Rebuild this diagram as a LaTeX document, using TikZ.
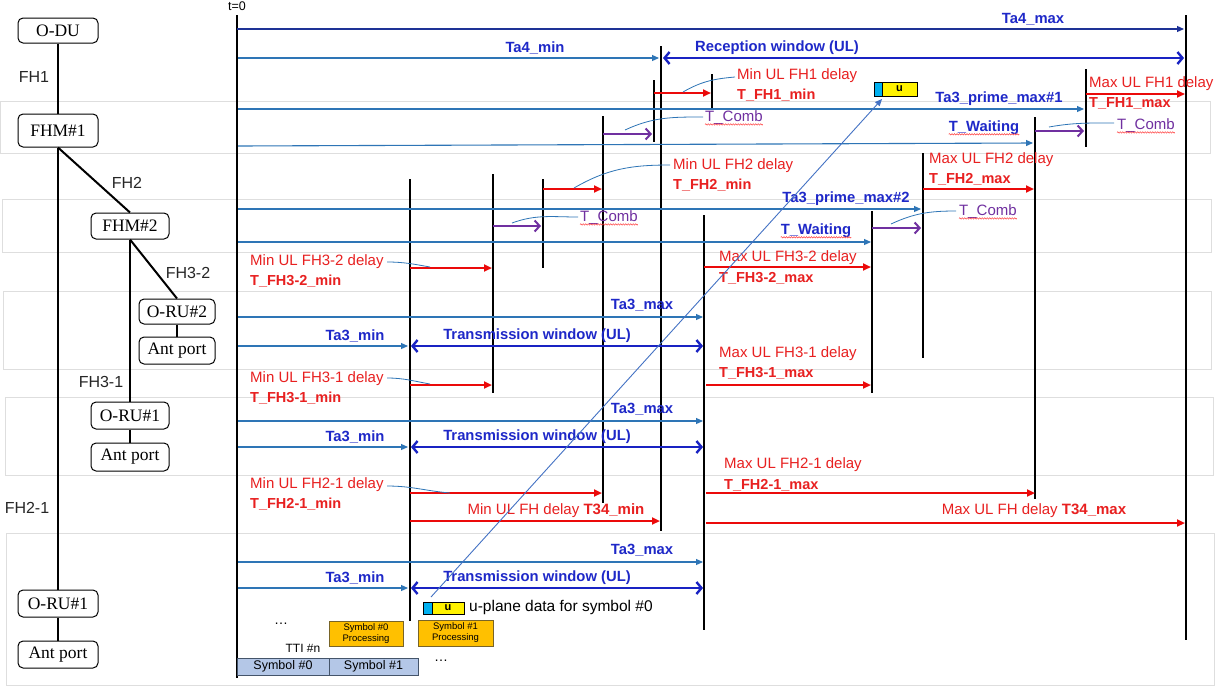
\documentclass[tikz,border=0pt]{standalone}
\usepackage{fontspec}
\setmainfont{Liberation Sans}
\newfontfamily\serifbox{Liberation Serif}
\usetikzlibrary{arrows.meta,decorations.pathmorphing}
\definecolor{lblue}{RGB}{30,40,200}
\definecolor{sblue}{RGB}{46,117,182}
\definecolor{nblue}{RGB}{30,50,150}
\definecolor{wblue}{RGB}{25,35,195}
\definecolor{tred}{RGB}{232,32,32}
\definecolor{ared}{RGB}{235,10,10}
\definecolor{tpurp}{RGB}{112,48,160}
\definecolor{bandgray}{RGB}{222,222,222}
\definecolor{orng}{RGB}{255,192,0}
\definecolor{orngdraw}{RGB}{120,100,40}
\definecolor{symblue}{RGB}{180,199,231}
\definecolor{symdraw}{RGB}{68,84,106}
\definecolor{cyanu}{RGB}{0,176,240}
\definecolor{diag}{RGB}{68,114,196}
\begin{document}
\begin{tikzpicture}[x=1pt,y=-1pt,
  box/.style={draw, line width=1pt, rounded corners=5pt, inner sep=0pt,
    font=\serifbox\fontsize{17.5}{20}\selectfont},
  tline/.style={line width=2pt},
  vl/.style={line width=2pt},
  bl/.style={sblue, line width=1.1pt, -{Triangle[length=7pt,width=6pt]}},
  nbl/.style={nblue, line width=1.1pt, -{Triangle[length=7pt,width=6pt]}},
  win/.style={wblue, line width=2.4pt, {Straight Barb[length=5pt,width=12pt]}-{Straight Barb[length=5pt,width=12pt]}},
  ra/.style={ared, line width=2pt, -{Triangle[length=8pt,width=7pt]}},
  pa/.style={tpurp, line width=2pt, -{Straight Barb[length=5pt,width=11pt]}},
  co/.style={sblue, line width=0.8pt},
  blab/.style={text=lblue, inner sep=0pt, font=\bfseries\fontsize{14.8}{16}\selectfont},
  rlab/.style={text=tred, inner sep=0pt, anchor=west, font=\fontsize{15}{17}\selectfont},
  rbold/.style={text=tred, inner sep=0pt, anchor=west, font=\bfseries\fontsize{14.5}{16}\selectfont},
  plab/.style={text=tpurp, inner sep=0pt, anchor=west, font=\fontsize{15}{17}\selectfont},
  fhlab/.style={text=black!85, inner sep=0pt, font=\fontsize{16}{18}\selectfont},
  band/.style={draw=bandgray, line width=0.8pt},
  wavy/.style={red!75, line width=0.5pt, decorate, decoration={snake,amplitude=0.7pt,segment length=2.5pt}},
  procbox/.style={draw=orngdraw, fill=orng, line width=0.6pt, inner sep=0pt, align=center,
    font=\fontsize{9.5}{11}\selectfont},
  symbar/.style={draw=symdraw, fill=symblue, line width=0.8pt, inner sep=0pt,
    font=\fontsize{12.5}{14}\selectfont}
]
\useasboundingbox (0,0) rectangle (1215,686);
\fill[white] (0,0) rectangle (1215,686);

% background bands
\draw[band] (0,101) rectangle (1210,153);
\draw[band] (2,199) rectangle (1211,252);
\draw[band] (3,291) rectangle (1211,369);
\draw[band] (5,397) rectangle (1213,475);
\draw[band] (6,533) rectangle (1214,685);

% ---------- tree ----------
\node[box, minimum width=80pt, minimum height=25pt] (odu)   at (58,30.5)  {O-DU};
\node[box, minimum width=80pt, minimum height=33pt] (fhm1)  at (58,130.5) {FHM\#1};
\node[box, minimum width=78pt, minimum height=26pt] (fhm2)  at (130,226)  {FHM\#2};
\node[box, minimum width=76pt, minimum height=25pt] (oru2)  at (177,311.5) {O-RU\#2};
\node[box, minimum width=76pt, minimum height=27pt] (ant1)  at (177,350.5) {Ant port};
\node[box, minimum width=78pt, minimum height=27pt] (oru1m) at (130,415.5) {O-RU\#1};
\node[box, minimum width=78pt, minimum height=28pt] (ant2)  at (130,457)  {Ant port};
\node[box, minimum width=80pt, minimum height=27pt] (oru1b) at (58,603.5) {O-RU\#1};
\node[box, minimum width=80pt, minimum height=27pt] (antb)  at (58,654.5) {Ant port};

\draw[tline] (odu.south) -- (fhm1.north);
\draw[tline] (fhm1.south) -- (oru1b.north);
\draw[tline] (fhm1.south) -- (fhm2.north);
\draw[tline] (fhm2.south) -- (oru2.north);
\draw[tline] (fhm2.south) -- (oru1m.north);
\draw[tline] (oru2.south) -- (ant1.north);
\draw[tline] (oru1m.south) -- (ant2.north);
\draw[tline] (oru1b.south) -- (antb.north);

\node[fhlab] (lfh1)  at (34,77)  {FH1};
\node[fhlab] (lfh2)  at (127,183) {FH2};
\node[fhlab] (lfh32) at (188,273) {FH3-2};
\node[fhlab] (lfh31) at (101,382) {FH3-1};
\node[fhlab] (lfh21) at (27,508)  {FH2-1};

% ---------- timing ----------
\node[inner sep=0pt, font=\fontsize{12.5}{14}\selectfont] (t0) at (237,6) {t=0};
\draw[line width=2.4pt] (237,15) -- (237,678);

% vertical event lines
\draw[vl] (1186,15) -- (1186,640);
\draw[vl] (661,46) -- (661,531);
\draw[vl] (654,80) -- (654,142);
\draw[vl] (712,74) -- (712,108);
\draw[vl] (1086,69) -- (1086,147);
\draw[vl] (1035,117) -- (1035,499);
\draw[vl] (923,153) -- (923,358);
\draw[vl] (872,211) -- (872,393);
\draw[vl] (704,215) -- (704,630);
\draw[vl] (603,116) -- (603,503);
\draw[vl] (543,179) -- (543,268);
\draw[vl] (493,174) -- (493,393);
\draw[vl] (410,179) -- (410,621);

% blue time lines
\draw[nbl] (237,29) -- (1184,29);
\node[blab] (ta4max) at (1033,19) {Ta4\_max};
\draw[bl] (238,58) -- (659,58);
\node[blab] (ta4min) at (535,48) {Ta4\_min};
\draw[win] (663,58) -- (1184,58);
\node[blab] (rxw) at (777,48) {Reception window (UL)};

\draw[bl] (238,109) -- (1084,109);
\node[blab] (tp1) at (999,99) {Ta3\_prime\_max\#1};
\draw[bl] (238,146) -- (1033,143);
\node[blab] (tw1) at (984,128) {T\_Waiting};
\draw[wavy] ([yshift=-2.5pt]tw1.base west) -- ([yshift=-2.5pt]tw1.base east);

\draw[bl] (238,209) -- (921,209);
\node[blab] (tp2) at (846,199) {Ta3\_prime\_max\#2};
\draw[bl] (238,242) -- (871,242);
\node[blab] (tw2) at (816,231) {T\_Waiting};
\draw[wavy] ([yshift=-2.5pt]tw2.base west) -- ([yshift=-2.5pt]tw2.base east);

% three Ta3 groups
\foreach \ymax/\ymin/\i in {317/346/a, 421/447/b, 562/588/c}{
  \draw[bl] (238,\ymax) -- (703,\ymax);
  \node[blab] (ta3max\i) at (642,\ymax-12) {Ta3\_max};
  \draw[bl] (238,\ymin) -- (408,\ymin);
  \node[blab] (ta3min\i) at (355,\ymin-10) {Ta3\_min};
  \draw[win] (411,\ymin) -- (703,\ymin);
  \node[blab] (txw\i) at (537,\ymin-10) {Transmission window (UL)};
}

% purple T_Comb arrows
\draw[pa] (603,134) -- (652,134);
\node[plab] (tc1) at (705,118) {T\_Comb};
\draw[co] (703,117) to[out=180,in=25] (625,130);
\draw[pa] (493,226) -- (541,226);
\node[plab] (tc2) at (580,218) {T\_Comb};
\draw[co] (578,217) to[out=180,in=20] (512,223);
\draw[pa] (1035,131) -- (1084,131);
\node[plab] (tc3) at (1117,126) {T\_Comb};
\draw[co] (1114,123) to[out=180,in=10] (1049,127);
\draw[pa] (872,228) -- (921,228);
\node[plab] (tc4) at (959,212) {T\_Comb};
\draw[co] (956,211) to[out=180,in=25] (891,224);
\foreach \n in {tc1,tc2,tc3,tc4}{
  \draw[wavy] ([yshift=-2.5pt]\n.base west) -- ([yshift=-2.5pt]\n.base east);
}

% red delay arrows
\draw[ra] (654,93) -- (711,93);
\node[rlab] (m1a) at (737,76) {Min UL FH1 delay};
\node[rbold] (m1b) at (737,95) {T\_FH1\_min};
\draw[co] (735,77) to[out=185,in=30] (683,92);

\draw[ra] (1086,94) -- (1185,94);
\node[rlab] (x1a) at (1089,84) {Max UL FH1 delay};
\node[rbold] (x1b) at (1089,103) {T\_FH1\_max};

\draw[ra] (543,189) -- (602,189);
\node[rlab] (m2a) at (673,166) {Min UL FH2 delay};
\node[rbold] (m2b) at (673,185) {T\_FH2\_min};
\draw[co] (670,165) to[out=180,in=30] (574,188);

\draw[ra] (923,189) -- (1034,189);
\node[rlab] (x2a) at (929,160) {Max UL FH2 delay};
\node[rbold] (x2b) at (929,179) {T\_FH2\_max};

\draw[ra] (410,268) -- (492,268);
\node[rlab] (m32a) at (250,262) {Min UL FH3-2 delay};
\node[rbold] (m32b) at (250,281) {T\_FH3-2\_min};
\draw[co] (387,262) to[out=0,in=170] (430,267);

\draw[ra] (704,267) -- (871,267);
\node[rlab] (x32a) at (719,258) {Max UL FH3-2 delay};
\node[rbold] (x32b) at (719,278) {T\_FH3-2\_max};

\draw[ra] (410,385) -- (492,385);
\node[rlab] (m31a) at (250,379) {Min UL FH3-1 delay};
\node[rbold] (m31b) at (250,398) {T\_FH3-1\_min};
\draw[co] (387,378) to[out=0,in=170] (430,384);

\draw[ra] (706,385) -- (871,385);
\node[rlab] (x31a) at (719,354) {Max UL FH3-1 delay};
\node[rbold] (x31b) at (719,373) {T\_FH3-1\_max};

\draw[ra] (410,493) -- (602,493);
\node[rlab] (m21a) at (250,485) {Min UL FH2-1 delay};
\node[rbold] (m21b) at (250,504) {T\_FH2-1\_min};
\draw[co] (387,486) to[out=0,in=175] (450,493);

\draw[ra] (706,493) -- (1035,493);
\node[rlab] (x21a) at (724,465) {Max UL FH2-1 delay};
\node[rbold] (x21b) at (724,485) {T\_FH2-1\_max};

\draw[ra] (410,521) -- (660,521);
\node[text=tred, inner sep=0pt, font=\fontsize{15}{17}\selectfont] (t34min) at (556,511) {Min UL FH delay \textbf{T34\_min}};
\draw[ra] (706,523) -- (1185,523);
\node[text=tred, inner sep=0pt, font=\fontsize{15}{17}\selectfont] (t34max) at (1034,511) {Max UL FH delay \textbf{T34\_max}};

% u-plane boxes
\draw[line width=0.6pt, fill=cyanu] (874,82) rectangle (882,96);
\draw[line width=0.6pt, fill=yellow] (882,82) rectangle (917,96);
\node[inner sep=0pt, font=\bfseries\fontsize{11}{12}\selectfont] (utop) at (899.5,89) {u};
\draw[line width=0.6pt, fill=cyanu] (423,602) rectangle (432,614);
\draw[line width=0.6pt, fill=yellow] (432,602) rectangle (464,614);
\node[inner sep=0pt, font=\bfseries\fontsize{11}{12}\selectfont] (ubot) at (448,608) {u};
\node[inner sep=0pt, anchor=west, font=\fontsize{15.5}{17}\selectfont] (ulab) at (469,607) {u-plane data for symbol \#0};

% diagonal u-plane path
\draw[diag, line width=0.9pt, -{Triangle[length=7pt,width=6pt]}] (431,597) -- (882,99);

% processing boxes and symbols
\node[procbox, minimum width=74pt, minimum height=25pt] (p0) at (366,633.5) {Symbol \#0\\Processing};
\node[procbox, minimum width=75pt, minimum height=26pt] (p1) at (455.5,633) {Symbol \#1\\Processing};
\node[inner sep=0pt, font=\fontsize{14}{16}\selectfont] (dots1) at (281,624) {\dots};
\node[inner sep=0pt, font=\fontsize{12}{14}\selectfont] (tti) at (303,648) {TTI \#n};
\node[symbar, minimum width=92pt, minimum height=17pt] (s0) at (283,666.5) {Symbol \#0};
\node[symbar, minimum width=89pt, minimum height=17pt] (s1) at (373.5,666.5) {Symbol \#1};
\node[inner sep=0pt, font=\fontsize{14}{16}\selectfont] (dots2) at (441,661) {\dots};
\end{tikzpicture}
\end{document}
